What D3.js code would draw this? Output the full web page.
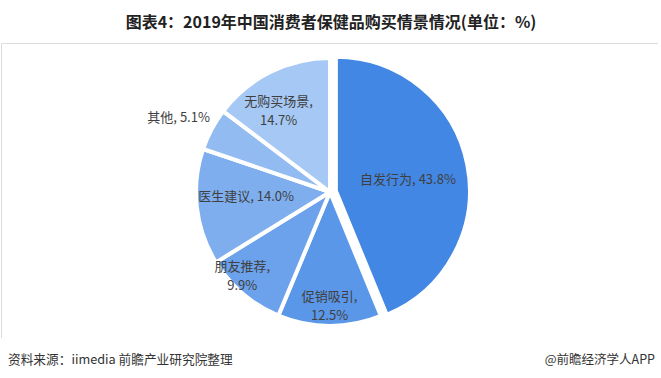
<!DOCTYPE html>
<html><head><meta charset="utf-8">
<script src="https://cdn.jsdelivr.net/npm/d3@7"></script>
<style>
html,body{margin:0;padding:0;background:#fff;}
svg{display:block;font-family:"Noto Sans CJK SC","Noto Sans",sans-serif;}
</style></head>
<body><svg id="c" width="661" height="378"></svg>
<script>
const categories = ["自发行为","促销吸引","朋友推荐","医生建议","其他","无购买场景"];
const values = [43.8, 12.5, 9.9, 14.0, 5.1, 14.7];
const colors = ["#4287e3","#5a97e8","#6ba2eb","#7eaeee","#91bbf1","#a6c8f4"];
const title = "图表4：2019年中国消费者保健品购买情景情况(单位：%)";
const source = "资料来源：iimedia 前瞻产业研究院整理";
const credit = "@前瞻经济学人APP";

// label placement: angle offset (deg), distance from centre (px), two-line?
const labelLayout = {
  "自发行为": {da: 2, dist: 79, split: false},
  "促销吸引": {da: 0, dist: 113, split: true},
  "朋友推荐": {da: 6, dist: 121, split: true},
  "医生建议": {da: 3.5, dist: 84, split: false},
  "其他": {da: -1.5, dist: 169, split: false},
  "无购买场景": {da: -5.5, dist: 97, split: true}
};

const svg = d3.select("#c");
const cx = 330, cy = 192, R = 134;

svg.append("line").attr("x1",1.5).attr("x2",658).attr("y1",43.5).attr("y2",43.5)
  .attr("stroke","#dcdcdc").attr("stroke-width",1);
svg.append("line").attr("x1",1.5).attr("x2",1.5).attr("y1",43.5).attr("y2",338)
  .attr("stroke","#dcdcdc").attr("stroke-width",1);

svg.append("text").attr("x",331).attr("y",28).attr("text-anchor","middle")
  .attr("font-size",16).attr("font-weight","bold").attr("fill","#222").text(title);

const data = categories.map((c,i)=>({cat:c, value:values[i], color:colors[i]}));
const pie = d3.pie().value(d=>d.value).sort(null);
const arcs = pie(data);
const arc = d3.arc().innerRadius(0).outerRadius(R);

const g = svg.append("g").attr("transform",`translate(${cx},${cy})`);
g.selectAll("path").data(arcs).enter().append("path")
  .attr("d", arc)
  .attr("fill", d=>d.data.color)
  .attr("stroke","#fff").attr("stroke-width",4).attr("stroke-linejoin","round")
  .attr("transform", (d,i)=>{
    if(i!==0) return null;
    const m=(d.startAngle+d.endAngle)/2, off=6;
    return `translate(${off*Math.sin(m)},${-off*Math.cos(m)})`;
  });

arcs.forEach(d=>{
  const L = labelLayout[d.data.cat];
  const m = (d.startAngle+d.endAngle)/2 + L.da*Math.PI/180;
  const x = L.dist*Math.sin(m), y = -L.dist*Math.cos(m);
  const t = g.append("text").attr("text-anchor","middle").attr("font-size",13).attr("fill","#404040");
  const pct = d3.format(".1f")(d.data.value)+"%";
  if(L.split){
    t.append("tspan").attr("x",x).attr("y",y-4).text(d.data.cat+",");
    t.append("tspan").attr("x",x).attr("y",y+15).text(pct);
  } else {
    t.attr("x",x).attr("y",y+5).text(d.data.cat+", "+pct);
  }
});

svg.append("text").attr("x",8).attr("y",364).attr("font-size",12.7).attr("fill","#333").text(source);
svg.append("text").attr("x",655).attr("y",364).attr("text-anchor","end").attr("font-size",12.5).attr("fill","#333").text(credit);
</script></body></html>
